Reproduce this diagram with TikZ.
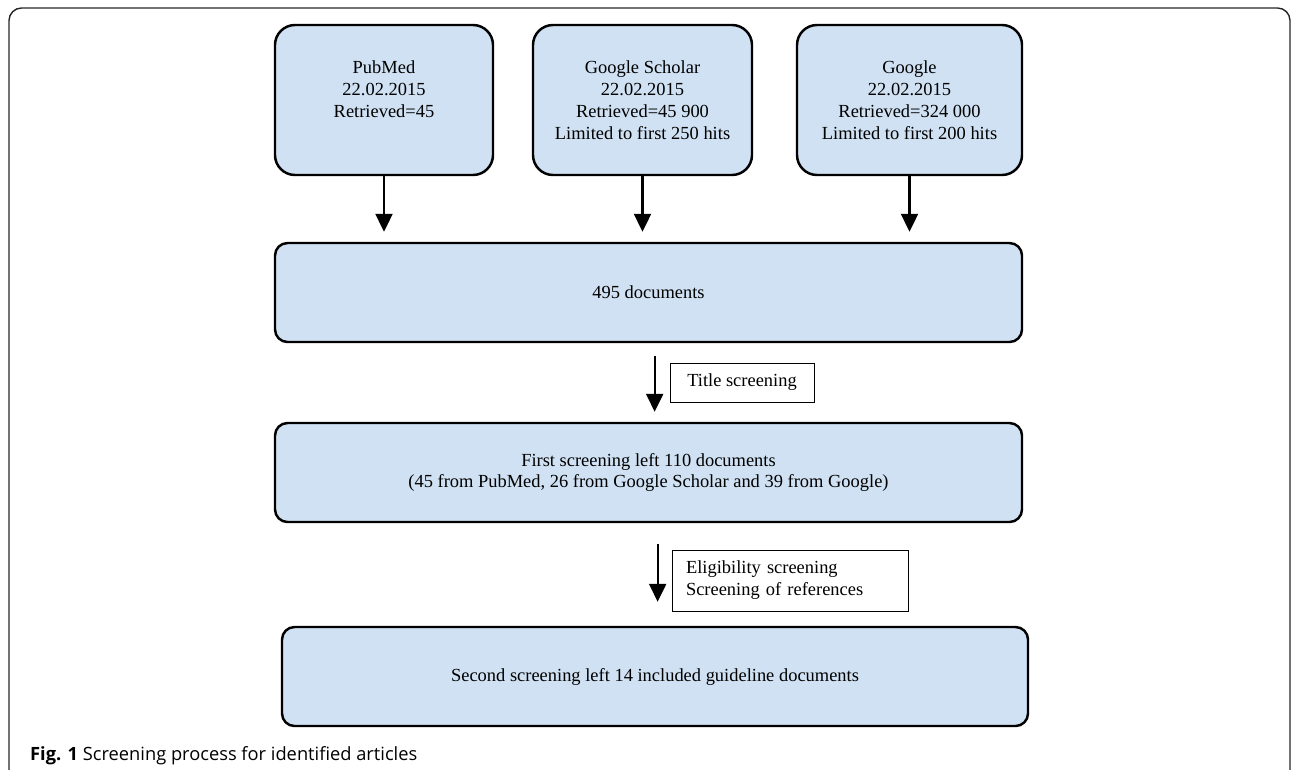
\documentclass[tikz,border=0pt]{standalone}
\usepackage{fontspec}
\setmainfont{Liberation Serif}
\newfontfamily\capfont{Open Sans}
\usepackage{tikz, xcolor}
\usetikzlibrary{positioning, arrows.meta, calc}

\definecolor{boxblue}{RGB}{207,225,242}

\begin{document}
\begin{tikzpicture}[font = \fontsize{10.5}{12.5}\selectfont, node distance=1.5cm,
    osource/.style={draw, black, fill=boxblue, line width=1.4pt, rounded corners=0.4cm, minimum height=3cm, align=center, inner sep=0pt},
    ostage/.style={draw, black, fill=boxblue, line width=1.4pt, rounded corners=0.25cm, minimum width=14.94cm, minimum height=1.98cm, align=center, inner sep=0pt},
    olabel/.style={draw, black, thin, minimum height=0.78cm, inner sep=0pt},
    arrow/.style={-{Triangle[length=0.36cm, width=0.34cm]}, line width=1.3pt},
    frame/.style={draw=black!85, line width=0.8pt, rounded corners=0.25cm},
    ]

    \useasboundingbox (0,0) rectangle (25.84,-15.38);
    \clip (0,0) rectangle (25.84,-15.38);
    \draw[frame] (0.18,-16) rectangle (25.8,-0.16);

    \node(pubmed)[osource, minimum width=4.36cm] at (7.68,-2.0){PubMed\\22.02.2015\\Retrieved=45\\~};
    \node(scholar)[osource, minimum width=4.38cm] at (12.85,-2.0){Google Scholar\\22.02.2015\\Retrieved=45 900\\Limited to first 250 hits};
    \node(google)[osource, minimum width=4.5cm] at (18.19,-2.0){Google\\22.02.2015\\Retrieved=324 000\\Limited to first 200 hits};

    \node(docs)[ostage] at (12.97,-5.85){495 documents};
    \node(first)[ostage, below of = docs, node distance=3.6cm]{First screening left 110 documents\\(45 from PubMed, 26 from Google Scholar and 39 from Google)};
    \node(second)[ostage, minimum width=14.92cm] at (13.1,-13.53){Second screening left 14 included guideline documents};

    \node(tlabel)[olabel, minimum width=2.88cm] at (14.84,-7.65){Title screening};
    \node(elabel)[olabel, minimum width=4.72cm, minimum height=1.22cm, text width=4.16cm, align=left] at (15.8,-11.61){Eligibility screening\\Screening of references};

    \draw[arrow, shorten >=0.2cm](pubmed) -- (pubmed |- docs.north);
    \draw[arrow, shorten >=0.2cm](scholar) -- (scholar |- docs.north);
    \draw[arrow, shorten >=0.2cm](google) -- (google |- docs.north);
    \draw[arrow, shorten <=0.26cm, shorten >=0.2cm]([xshift=-0.3cm]tlabel.west |- docs.south) -- ([xshift=-0.3cm]tlabel.west |- first.north);
    \draw[arrow, shorten <=0.42cm, shorten >=0.48cm]([xshift=-0.28cm]elabel.west |- first.south) -- ([xshift=-0.28cm]elabel.west |- second.north);

    % caption
    \node(caption)[anchor=base west, font=\capfont\fontsize{10.4}{12}\selectfont] at (0.48,-15.2){\textbf{Fig. 1} Screening process for identified articles};

\end{tikzpicture}
\end{document}
